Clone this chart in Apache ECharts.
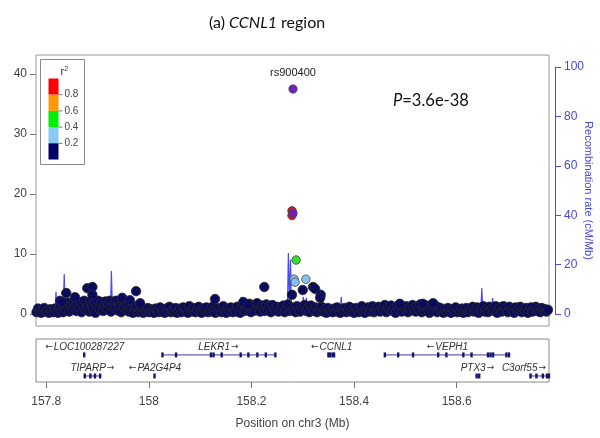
<!DOCTYPE html>
<html><head><meta charset="utf-8">
<script src="https://cdn.jsdelivr.net/npm/echarts@6/dist/echarts.min.js"></script>
<style>html,body{margin:0;padding:0;background:#fff}#c{width:600px;height:438px}</style>
</head><body><div id="c"></div>
<script>
// ---------------- DATA ----------------
// SNPs with r^2 < 0.2 : [position (Mb), -log10 P]
const lowLdSnps = [
[157.781,0.3],[157.784,0.9],[157.787,0.5],[157.790,0.2],[157.793,0.7],[157.796,1.0],[157.799,0.4],[157.802,0.6],[157.805,0.2],[157.808,0.8],[157.811,0.5],[157.814,0.3],[157.817,0.9],[157.820,0.6],[157.823,0.2],[157.826,1.2],[157.828,0.5],[157.831,1.6],[157.833,0.3],[157.836,1.1],[157.839,0.7],[157.842,1.9],[157.845,0.4],[157.848,1.4],
[157.851,0.8],[157.853,2.1],[157.856,1.2],[157.859,0.5],[157.861,1.7],[157.864,0.9],[157.866,2.0],[157.869,0.3],[157.871,1.4],[157.874,2.2],[157.876,0.7],[157.879,1.8],[157.881,1.1],[157.884,0.4],[157.886,2.1],[157.889,1.5],[157.891,0.9],[157.894,1.9],[157.896,0.2],[157.899,1.3],[157.901,2.2],[157.904,0.8],[157.906,1.6],[157.909,2.0],[157.911,0.5],[157.914,1.2],[157.916,2.1],[157.919,0.9],[157.921,1.7],[157.924,2.2],[157.926,0.4],[157.929,1.4],[157.931,2.0],[157.934,1.0],[157.936,2.2],[157.939,0.6],[157.941,1.8],[157.944,1.3],[157.946,0.3],[157.949,2.1],[157.951,1.1],[157.954,1.9],[157.956,0.7],[157.959,1.5],[157.961,0.4],[157.964,1.2],[157.966,0.8],[157.969,0.2],[157.971,1.0],[157.974,0.5],[157.976,1.3],[157.979,0.3],[157.981,0.9],[157.984,0.6],[157.986,1.1],[157.989,0.2],
[157.992,0.7],[157.995,0.4],[157.998,1.0],[158.001,0.3],[158.004,0.8],[158.007,0.5],[158.010,0.2],[158.013,0.9],[158.016,0.6],[158.019,0.3],[158.022,1.1],[158.025,0.4],[158.028,0.7],[158.031,0.2],[158.034,0.9],[158.037,0.5],[158.040,1.2],[158.043,0.3],[158.046,0.7],[158.049,0.4],[158.052,1.0],[158.055,0.2],[158.058,0.6],[158.061,0.9],[158.064,0.3],[158.067,1.1],[158.070,0.5],[158.073,0.8],[158.076,0.2],[158.079,1.3],[158.082,0.6],[158.085,0.4],[158.088,1.0],[158.091,0.3],[158.094,0.7],[158.097,1.2],[158.100,0.5],[158.103,0.2],[158.106,0.9],[158.109,0.6],[158.112,1.1],[158.115,0.3],[158.118,0.8],[158.121,0.4],[158.124,1.2],[158.127,0.6],[158.130,0.2],[158.133,1.0],[158.136,0.5],[158.139,0.8],[158.142,0.3],[158.145,1.3],[158.148,0.6],[158.151,0.2],[158.154,0.9],[158.157,0.5],[158.160,1.1],[158.163,0.3],[158.166,0.8],[158.169,0.4],[158.172,1.2],[158.175,0.6],[158.178,0.2],
[158.181,1.0],[158.184,1.6],[158.187,0.5],[158.190,1.3],[158.193,0.8],[158.196,1.7],[158.199,0.3],[158.202,1.1],[158.205,1.5],[158.208,0.6],[158.211,1.8],[158.214,0.9],[158.217,0.4],[158.220,1.4],[158.223,1.0],[158.226,0.5],[158.229,1.6],[158.232,0.8],[158.235,1.3],[158.238,0.3],[158.241,1.5],[158.244,0.9],[158.247,0.6],[158.250,1.2],[158.253,0.4],[158.256,1.0],[158.259,0.7],[158.262,1.4],[158.265,0.3],[158.268,0.9],[158.271,1.6],[158.274,0.5],
[158.277,1.1],[158.280,0.6],[158.283,0.9],[158.286,0.3],[158.289,1.3],[158.292,0.7],[158.295,0.4],[158.298,1.2],[158.301,0.8],[158.304,1.5],[158.307,0.5],[158.310,1.0],[158.313,0.3],[158.316,1.4],[158.319,0.8],[158.322,0.5],[158.325,1.1],[158.328,0.3],[158.331,0.9],[158.334,0.6],[158.337,1.2],[158.340,0.4],[158.343,0.8],[158.346,0.2],[158.349,1.0],[158.352,0.5],[158.355,0.7],[158.358,0.3],
[158.361,0.9],[158.364,0.4],[158.367,1.1],[158.370,0.6],[158.373,0.2],[158.376,0.8],[158.379,0.5],[158.382,1.0],[158.385,0.3],[158.388,0.7],[158.391,1.2],[158.394,0.4],[158.397,0.8],[158.400,0.2],[158.403,1.0],[158.406,0.6],[158.409,0.3],[158.412,0.9],[158.415,1.3],[158.418,0.5],[158.421,0.2],[158.424,0.8],[158.427,1.1],[158.430,0.4],[158.433,0.7],[158.436,1.3],[158.439,0.3],[158.442,0.9],[158.445,0.6],[158.448,1.2],[158.451,0.4],[158.454,1.0],[158.457,0.7],[158.460,1.5],[158.463,0.3],[158.466,1.1],[158.469,0.8],[158.472,1.4],[158.475,0.5],[158.478,1.0],[158.481,0.2],[158.484,1.3],[158.487,0.7],[158.490,1.6],[158.493,0.4],[158.496,1.1],[158.499,0.8],[158.502,1.3],[158.505,0.3],[158.508,1.0],[158.511,0.6],[158.514,1.5],[158.517,0.9],[158.520,0.4],[158.523,1.2],[158.526,0.7],[158.529,1.6],[158.532,0.3],[158.535,1.1],[158.538,0.6],[158.541,1.4],[158.544,0.8],[158.547,0.2],[158.550,1.2],[158.553,0.5],[158.556,1.6],[158.559,0.9],[158.562,0.3],[158.565,1.1],[158.568,0.6],[158.571,0.9],[158.574,0.2],[158.577,0.7],[158.580,0.4],[158.583,1.0],[158.586,0.6],[158.589,0.2],[158.592,0.8],[158.595,0.5],[158.598,1.1],[158.601,0.3],[158.604,0.7],[158.607,0.4],[158.610,0.9],[158.613,0.2],[158.616,0.6],[158.619,1.0],[158.622,0.3],[158.625,0.8],[158.628,0.5],[158.631,1.2],[158.634,0.4],[158.637,0.7],[158.640,1.1],[158.643,0.2],[158.646,0.9],[158.649,0.6],[158.652,1.3],[158.655,0.4],[158.658,0.8],[158.661,0.3],[158.664,1.2],[158.667,0.7],[158.670,1.0],[158.673,0.5],[158.676,1.3],[158.679,0.2],[158.682,0.9],[158.685,1.1],[158.688,0.4],[158.691,1.3],[158.694,0.7],[158.697,1.0],[158.700,0.3],[158.703,1.2],[158.706,0.6],[158.709,0.9],[158.712,0.2],[158.715,1.1],[158.718,0.5],[158.721,0.8],[158.724,1.2],[158.727,0.3],[158.730,0.9],[158.733,0.6],[158.736,1.0],[158.739,0.2],[158.742,0.7],[158.745,1.1],[158.748,0.4],[158.751,0.8],[158.754,1.2],[158.757,0.5],[158.760,0.9],[158.763,0.3],[158.766,1.0],[158.769,0.6],[158.772,0.8],[158.775,0.4],[158.778,0.7],
[157.827,2.2],[157.831,2.0],[157.839,3.5],[157.856,2.8],[157.880,4.3],[157.890,4.5],[157.890,3.2],[157.948,2.7],[157.963,2.3],[157.975,3.8],[157.983,1.8],[158.129,2.5],[158.184,2.0],[158.193,1.6],[158.225,4.5],[158.279,3.2],[158.300,4.0],[158.320,4.5],[158.324,4.2],[158.335,3.2],[158.334,2.7],[158.489,1.7],[158.534,1.7],[158.554,1.8]
];
// SNPs in LD with the index SNP
const ldSnpPos  = [158.283, 158.285, 158.306, 158.287, 158.279, 158.279];
const ldSnpLogP = [5.8, 5.3, 5.8, 9.0, 17.2, 16.4];
const ldSnpR2   = [0.3, 0.3, 0.25, 0.5, 0.9, 0.85];
// Index SNP (purple)
const indexSnpPos  = [158.281, 158.281];
const indexSnpLogP = [16.8, 37.5];
const indexSnpName = ['', 'rs900400'];
// Recombination rate: [position (Mb), cM/Mb]
const recombRate = [
[157.780,0.4],[157.800,0.6],[157.817,0.5],[157.819,9.0],[157.821,0.8],[157.833,1.0],[157.835,16.2],[157.837,1.2],[157.860,0.8],[157.880,1.0],[157.900,0.6],[157.925,0.9],[157.927,17.4],[157.929,1.0],[157.950,0.7],[157.980,0.5],[158.000,0.3],[158.030,0.4],[158.060,0.3],[158.090,0.5],[158.120,0.4],[158.150,0.6],[158.178,0.8],[158.180,7.0],[158.182,0.9],[158.210,0.6],[158.240,0.8],[158.270,1.2],[158.272,24.7],[158.274,5.0],[158.276,22.0],[158.278,1.5],[158.282,1.0],[158.283,5.0],[158.285,1.0],[158.299,1.1],[158.301,7.0],[158.303,2.0],[158.307,6.5],[158.309,1.2],[158.330,0.6],[158.373,0.7],[158.375,7.0],[158.377,0.8],[158.400,0.4],[158.431,0.6],[158.433,5.0],[158.435,0.7],[158.470,0.5],[158.520,0.6],[158.560,0.4],[158.600,0.5],[158.620,0.7],[158.622,3.0],[158.624,0.8],[158.647,1.0],[158.649,10.5],[158.651,1.2],[158.668,0.9],[158.670,6.5],[158.672,1.0],[158.692,0.8],[158.694,5.0],[158.696,0.9],[158.720,0.6],[158.770,0.8],[158.772,3.0],[158.774,0.7],[158.780,0.5]
];
// Genes
const geneNames  = ['LOC100287227','TIPARP','PA2G4P4','LEKR1','CCNL1','VEPH1','PTX3','C3orf55'];
const geneStart  = [157.873, 157.875, 158.010, 158.0265, 158.350, 158.460, 158.639, 158.744];
const geneEnd    = [157.875, 157.907, 158.012, 158.2466, 158.361, 158.702, 158.644, 158.782];
const geneStrand = ['-','+','-','+','-','-','+','+'];
const geneRow    = [0, 1, 1, 0, 0, 0, 1, 1];
const geneExons  = [
  [157.874],
  [157.875,157.886,157.895,157.905],
  [158.011],
  [158.0265,158.053,158.121,158.126,158.142,158.179,158.194,158.2115,158.228,158.2466],
  [158.350,158.353,158.358,158.361],
  [158.460,158.486,158.515,158.564,158.580,158.613,158.629,158.661,158.666,158.671,158.697,158.702],
  [158.639,158.644],
  [158.744,158.7555,158.768,158.776,158.780]
];
const xTicks = [157.8, 158.0, 158.2, 158.4, 158.6];
const leftTicks = [0, 10, 20, 30, 40];
const legendBreaks = ['0.8','0.6','0.4','0.2'];
const legendColors = ['#ff0000','#ff9900','#00ee00','#87cbf5','#000066'];

// ---------------- CHART ----------------
const chart = echarts.init(document.getElementById('c'), null, {renderer:'canvas'});
const FONT = 'Liberation Sans, Arial, sans-serif';
function r2Color(r){ return r>=0.8?'#d41a1a': r>=0.6?'#ff9900': r>=0.4?'#33e033': r>=0.2?'#86c2ef':'#0a0a5e'; }

const ldData = ldSnpPos.map((p,i)=>({value:[p, ldSnpLogP[i]], itemStyle:{color:r2Color(ldSnpR2[i])}}));
const idxData = indexSnpPos.map((p,i)=>({value:[p, indexSnpLogP[i]], name:indexSnpName[i]}));
const geneData = geneNames.map((n,i)=>[geneStart[i], geneEnd[i], geneRow[i], i]);

const measureCtx = document.createElement('canvas').getContext('2d');
const rowLevel = [0.74, 1.72];
const GENE_FONT = 'italic 10px Liberation Sans';
const ARROW_FONT = '9px DejaVu Sans';

function renderGene(params, api){
  const i = api.value(3);
  const row = api.value(2);
  const y = rowLevel[row];
  const s = api.coord([api.value(0), y]);
  const e = api.coord([api.value(1), y]);
  const cs = params.coordSys;
  const children = [];
  children.push({type:'line', shape:{x1:s[0], y1:s[1], x2:Math.max(e[0], s[0]+1), y2:s[1]}, style:{stroke:'#3a3aa0', lineWidth:1}});
  geneExons[i].forEach(x=>{
    const c = api.coord([x, y]);
    children.push({type:'rect', shape:{x:c[0]-1.2, y:c[1]-2.5, width:2.4, height:5}, style:{fill:'#16166e'}});
  });
  const plus = geneStrand[i]==='+';
  const text = plus ? '{t|'+geneNames[i]+'}{a|\u2192}' : '{a|\u2190}{t|'+geneNames[i]+'}';
  measureCtx.font = GENE_FONT;
  let w = measureCtx.measureText(geneNames[i]).width;
  measureCtx.font = ARROW_FONT;
  w += measureCtx.measureText('\u2190').width + 2;
  let cx = (s[0]+e[0])/2;
  const right = cs.x + cs.width - 2;
  if (cx + w/2 > right) cx = right - w/2;
  children.push({type:'text', style:{text:text, x:cx, y:s[1]-8, align:'center', verticalAlign:'middle',
    rich:{t:{fontFamily:'Liberation Sans', fontStyle:'italic', fontSize:10, fill:'#333'},
          a:{fontFamily:'DejaVu Sans', fontSize:9, fill:'#333', padding:[0,1,0,1]}}}});
  return {type:'group', children};
}

const option = {
  animation:false,
  backgroundColor:'#fff',
  title:{text:'{a|(a) }{b|CCNL1}{a| region}', left:204, top:10,
    textStyle:{fontWeight:'normal', rich:{a:{fontFamily:'Lato', fontWeight:'normal', fontSize:16, color:'#111'}, b:{fontFamily:'Lato', fontWeight:'normal', fontStyle:'italic', fontSize:16, color:'#111'}}}},
  grid:[
    {left:36, top:55, width:513, height:271, outerBoundsMode:'none', containLabel:false, show:true, borderColor:'#9a9a9a', borderWidth:1, backgroundColor:'transparent'},
    {left:36, top:339, width:513, height:43, outerBoundsMode:'none', containLabel:false, show:true, borderColor:'#8a8a8a', borderWidth:1, backgroundColor:'transparent'},
    {left:36, top:67, width:513, height:247, outerBoundsMode:'none', containLabel:false}
  ],
  xAxis:[
    {gridIndex:0, type:'value', min:157.78, max:158.78, show:false},
    {gridIndex:1, type:'value', min:157.78, max:158.78, position:'bottom', splitLine:{show:false},
     axisLine:{show:false, onZero:false},
     axisTick:{show:true, customValues:xTicks, length:6, inside:false, lineStyle:{color:'#777'}},
     axisLabel:{customValues:xTicks, margin:14, fontFamily:FONT, fontSize:12, color:'#444', formatter:v=>String(+v.toFixed(1))},
     name:'Position on chr3 (Mb)', nameLocation:'middle', nameGap:36, nameTextStyle:{fontFamily:FONT, fontSize:12, color:'#444'}},
    {gridIndex:2, type:'value', min:157.78, max:158.78, show:false}
  ],
  yAxis:[
    {gridIndex:0, type:'value', min:-2, max:43.17, splitLine:{show:false}, axisLine:{show:false, onZero:false},
     axisTick:{show:true, customValues:leftTicks, length:6, lineStyle:{color:'#777'}},
     axisLabel:{customValues:leftTicks, margin:9, fontFamily:FONT, fontSize:12, color:'#444'}},
    {gridIndex:1, type:'value', min:0, max:2, inverse:true, show:false},
    {gridIndex:2, type:'value', min:0, max:100, interval:20, position:'right', offset:6, splitLine:{show:false},
     axisLine:{show:true, onZero:false, lineStyle:{color:'#4b4be6', width:1}},
     axisTick:{show:true, length:6, lineStyle:{color:'#4b4be6'}},
     axisLabel:{margin:9, fontFamily:FONT, fontSize:12, color:'#4646e0'},
     name:'Recombination rate (cM/Mb)', nameLocation:'middle', nameRotate:-90, nameGap:28, nameMoveOverlap:false,
     nameTextStyle:{fontFamily:FONT, fontSize:11, color:'#4646e0'}}
  ],
  series:[
    {type:'line', xAxisIndex:2, yAxisIndex:2, data:recombRate, symbol:'none', z:1,
     lineStyle:{color:'#3535f5', width:1.2, opacity:0.9}},
    {type:'scatter', xAxisIndex:0, yAxisIndex:0, data:lowLdSnps, symbolSize:9.5, z:2,
     itemStyle:{color:'#0a0a5e', borderColor:'#2a2a2a', borderWidth:0.8, opacity:1}},
    {type:'scatter', xAxisIndex:0, yAxisIndex:0, data:ldData, symbolSize:8.5, z:3,
     itemStyle:{borderColor:'#444', borderWidth:0.8, opacity:1}},
    {type:'scatter', xAxisIndex:0, yAxisIndex:0, data:idxData, symbolSize:8.5, z:4,
     itemStyle:{color:'#7022b8', borderColor:'#444', borderWidth:0.6, opacity:1},
     label:{show:true, position:'top', distance:6, formatter:p=>p.name, fontFamily:FONT, fontSize:11, color:'#222'}},
    {type:'custom', xAxisIndex:1, yAxisIndex:1, data:geneData, renderItem:renderGene, z:2, clip:false}
  ],
  graphic:[
    {type:'text', left:393, top:92, style:{text:'{i|P}{n|=3.6e-38}', rich:{i:{fontFamily:'Lato', fontStyle:'italic', fontSize:16.5, fill:'#111'}, n:{fontFamily:'Lato', fontSize:16.5, fill:'#111'}}}},
    {type:'group', left:40, top:59, children:[
      {type:'rect', shape:{x:0, y:0, width:44, height:105}, style:{fill:'#fff', stroke:'#8a8a8a', lineWidth:1}},
      {type:'text', style:{text:'{r|r}{s|2}', x:20, y:6, rich:{r:{fontFamily:FONT, fontSize:11, fill:'#333'}, s:{fontFamily:FONT, fontSize:7, fill:'#333', verticalAlign:'top', padding:[0,0,6,0]}}}},
      ...legendColors.map((c,k)=>({type:'rect', shape:{x:8, y:19+k*16.2, width:10, height:16.2}, style:{fill:c}})),
      ...legendBreaks.map((t,k)=>({type:'line', shape:{x1:18, y1:19+(k+1)*16.2, x2:22, y2:19+(k+1)*16.2}, style:{stroke:'#555', lineWidth:0.8}})),
      ...legendBreaks.map((t,k)=>({type:'text', style:{text:t, x:24, y:19+(k+1)*16.2, verticalAlign:'middle', font:'10px Liberation Sans', fill:'#444'}}))
    ]}
  ]
};
chart.setOption(option);
</script>
</body></html>
